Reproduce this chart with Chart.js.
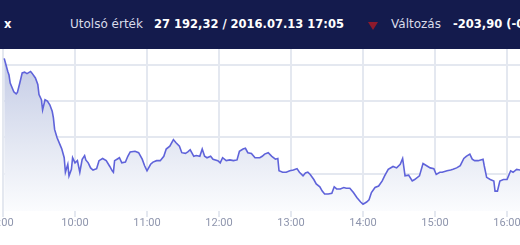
<!DOCTYPE html>
<html>
<head>
<meta charset="utf-8">
<script src="https://cdn.jsdelivr.net/npm/chart.js@4.4.1/dist/chart.umd.min.js"></script>
<style>
    html, body { margin: 0; padding: 0; background: #fff; overflow: hidden; }
    body { width: 520px; height: 245px; position: relative; }
    #header {
        position: absolute; left: 0; top: 0; width: 520px; height: 49px;
        background: #141b4d; z-index: 2; overflow: hidden;
        font-family: "DejaVu Sans", sans-serif; font-size: 12px; line-height: 49px;
        color: #d9dcea; white-space: nowrap;
    }
    #header span { position: absolute; top: 0; }
    #header .b { font-weight: bold; color: #fff; font-size: 11.5px; }
    #header .tri {
        top: 22px; width: 0; height: 0;
        border-left: 5px solid transparent; border-right: 5px solid transparent;
        border-top: 8px solid #8e1a2c;
    }
    #wrap { position: absolute; left: -40px; top: 0; width: 600px; height: 245px; }
</style>
</head>
<body>
<div id="header">
    <span class="b" style="left:4px">x</span>
    <span style="left:70px">Utolsó érték</span>
    <span class="b" style="left:154px">27 192,32 / 2016.07.13 17:05</span>
    <span class="tri" style="left:368px"></span>
    <span style="left:391px">Változás</span>
    <span class="b" style="left:453px">-203,90 (-0,74%)</span>
</div>
<div id="wrap"><canvas id="bux"></canvas></div>
<script>
// minutes after 9:00
const hourTicks = [0, 60, 120, 180, 240, 300, 360, 420];
const hourLabels = ["9:00", "10:00", "11:00", "12:00", "13:00", "14:00", "15:00", "16:00"];
const gridValues = [27300, 27350, 27400, 27450];

const minutes = [
    1, 2, 4, 5, 6, 9, 11, 12, 14, 16, 18, 20, 23, 24, 27, 29, 30, 32, 33, 35,
    37, 39, 41, 42, 43, 45, 48, 49, 51, 52, 54, 55, 57, 58, 60, 62, 64, 66, 68, 69,
    71, 73, 75, 78, 80, 83, 86, 89, 91, 92, 93, 95, 97, 99, 102, 104, 106, 110, 113, 116,
    118, 120, 123, 125, 128, 131, 134, 136, 139, 142, 144, 147, 149, 152, 154, 156, 159, 161, 164, 166,
    168, 170, 173, 175, 179, 181, 183, 186, 189, 192, 195, 197, 200, 202, 204, 207, 210, 214, 216, 218,
    221, 224, 227, 229, 230, 233, 236, 239, 242, 245, 247, 250, 252, 254, 256, 259, 261, 264, 266, 268,
    271, 274, 276, 278, 281, 284, 286, 289, 292, 295, 298, 300, 303, 305, 307, 310, 313, 316, 318, 321,
    325, 328, 331, 333, 335, 338, 341, 343, 347, 350, 353, 356, 359, 361, 364, 366, 370, 373, 375, 378,
    381, 384, 386, 389, 391, 393, 396, 400, 401, 403, 406, 409, 410, 412, 414, 417, 420, 423, 425, 428,
    431
];
const values = [
    27459, 27453, 27441, 27436, 27425, 27413, 27410, 27412, 27425, 27439, 27440, 27438, 27441, 27439, 27432, 27423, 27409, 27402, 27388, 27402,
    27400, 27395, 27386, 27377, 27361, 27350, 27338, 27334, 27322, 27302, 27313, 27297, 27306, 27322, 27315, 27318, 27302, 27320, 27325, 27319,
    27315, 27308, 27305, 27307, 27318, 27321, 27318, 27310, 27304, 27302, 27318, 27320, 27322, 27315, 27316, 27324, 27330, 27331, 27329, 27320,
    27311, 27304, 27313, 27316, 27318, 27318, 27324, 27334, 27338, 27347, 27343, 27338, 27329, 27328, 27330, 27333, 27324, 27325, 27324, 27334,
    27324, 27322, 27324, 27320, 27318, 27315, 27322, 27318, 27319, 27318, 27319, 27331, 27334, 27335, 27329, 27328, 27322, 27322, 27324, 27327,
    27329, 27324, 27320, 27321, 27304, 27302, 27302, 27304, 27305, 27307, 27302, 27297, 27301, 27302, 27299, 27292, 27286, 27282, 27276, 27272,
    27272, 27273, 27282, 27279, 27279, 27281, 27280, 27280, 27274, 27267, 27261, 27258, 27261, 27264, 27274, 27281, 27283, 27290, 27297, 27306,
    27310, 27308, 27313, 27321, 27297, 27298, 27290, 27292, 27297, 27314, 27311, 27308, 27307, 27299, 27302, 27302, 27304, 27305, 27306, 27308,
    27311, 27321, 27324, 27327, 27320, 27318, 27318, 27320, 27311, 27295, 27292, 27290, 27276, 27276, 27290, 27292, 27292, 27304, 27302, 27306,
    27305
];

function areaFill(context) {
    const area = context.chart.chartArea;
    if (!area) return "#dfe3f0";
    const g = context.chart.ctx.createLinearGradient(0, area.top, 0, area.bottom);
    g.addColorStop(0, "#c0c8e4");
    g.addColorStop(0.6, "#e4e8f3");
    g.addColorStop(1, "#fbfcfe");
    return g;
}

new Chart("bux", {
    type: "line",
    data: {
        datasets: [{
            label: "BUX",
            data: minutes.map((m, i) => ({ x: m, y: values[i] })),
            borderColor: "#5f63da",
            borderWidth: 1.6,
            backgroundColor: areaFill,
            fill: "start",
            pointRadius: 0,
            tension: 0
        }]
    },
    options: {
        responsive: true,
        maintainAspectRatio: false,
        animation: false,
        layout: { padding: { left: 43, right: 40, top: 49, bottom: 15 } },
        plugins: { legend: { display: false }, tooltip: { enabled: false } },
        scales: {
            x: {
                type: "linear",
                min: 0,
                max: 430.8,
                afterBuildTicks: (axis) => { axis.ticks = hourTicks.map(v => ({ value: v })); },
                border: { display: false },
                grid: { color: "#e4e8f0", lineWidth: 2, tickLength: 6 },
                ticks: {
                    autoSkip: false,
                    maxRotation: 0,
                    padding: 1,
                    color: "#8e95ad",
                    font: { family: "Roboto", size: 11, lineHeight: 1 },
                    callback: (v) => hourLabels[hourTicks.indexOf(v)]
                }
            },
            y: {
                min: 27248.6,
                max: 27471.9,
                afterBuildTicks: (axis) => { axis.ticks = gridValues.map(v => ({ value: v })); },
                border: { display: false },
                grid: { color: "#e4e8f0", lineWidth: 2, drawTicks: false },
                ticks: { display: false }
            }
        }
    }
});
</script>
</body>
</html>
